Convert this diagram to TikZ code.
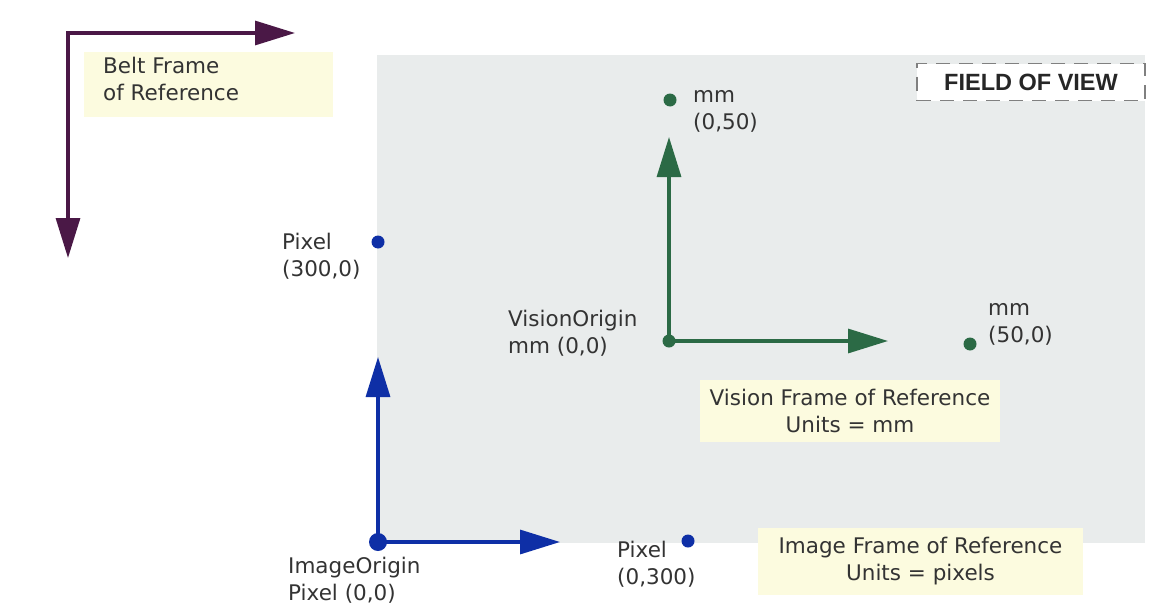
\documentclass[tikz,border=0pt]{standalone}
\usepackage{fontspec}
\setmainfont{DejaVu Sans}
\newfontfamily\fovfont{Liberation Sans}
\usetikzlibrary{arrows.meta,positioning}

\definecolor{beltcol}{HTML}{4A1846}
\definecolor{imagecol}{HTML}{0E2FA6}
\definecolor{visioncol}{HTML}{2B6A45}
\definecolor{fovcol}{HTML}{E9ECEC}
\definecolor{notecol}{HTML}{FCFBDF}
\definecolor{labelcol}{HTML}{333333}

\begin{document}
\begin{tikzpicture}[x=1pt,y=-1pt,
    font=\fontsize{21.5}{27}\selectfont,
    axis/.style={
% The line:
line width=3.2pt,
% The tip:
-{Triangle[length=40pt,width=24pt]},
},
    dot/.style={
% The shape:
circle, fill, inner sep=0pt,
% The size:
minimum size=13pt,
},
    note/.style={
% The shape:
rectangle, fill=notecol,
% The text:
text=labelcol, inner sep=0pt,
},
    lbl/.style={
% The text:
text=labelcol, align=left, inner sep=0pt, anchor=west,
},
]
  \useasboundingbox (0,0) rectangle (1155,610);
  % field of view
  \fill[fovcol] (377,55) rectangle (1145,543);
  \node[draw=gray, dashed, line width=1.5pt, dash pattern=on 14pt off 9pt,
        fill=white, minimum width=228pt, minimum height=37pt,
        font=\fovfont\fontsize{23.5}{26}\selectfont\bfseries, text=black!85]
        (fov) at (1031,82) {FIELD OF VIEW};

  % belt frame
  \coordinate (B) at (68,33);
  \coordinate (Bx) at (295,33);
  \coordinate (By) at (68,258);
  \draw[axis, beltcol] ([xshift=-1.6pt]B) -- (Bx);
  \draw[axis, beltcol] (B) -- (By);
  \fill[notecol] (84,52) rectangle (333,117);
  \node[lbl] (beltl) at (103,79) {Belt Frame\\of Reference};

  % image frame
  \node[dot, imagecol, minimum size=18pt] (I) at (378,542) {};
  \coordinate (Ix) at (560,542);
  \coordinate (Iy) at (378,357);
  \draw[axis, imagecol] (I.center) -- (Iy);
  \draw[axis, imagecol] (I.center) -- (Ix);
  \node[dot, imagecol] (P1) at (378,242) {};
  \node[dot, imagecol] (P2) at (688,541) {};
  \node[lbl] (P1l) at (282,256) {Pixel\\(300,0)};
  \node[lbl] (P2l) at (617,564) {Pixel\\(0,300)};
  \node[lbl] (Il) at (288,580) {ImageOrigin\\Pixel (0,0)};
  \node[note, minimum width=325pt, minimum height=67pt, align=center]
        (imagenote) at (920.5,561.5) {Image Frame of Reference\\Units = pixels};

  % vision frame
  \node[dot, visioncol] (V) at (669,341) {};
  \coordinate (Vx) at (888,341);
  \coordinate (Vy) at (669,137);
  \draw[axis, visioncol] (V.center) -- (Vy);
  \draw[axis, visioncol] (V.center) -- (Vx);
  \node[dot, visioncol] (M1) at (670,100) {};
  \node[dot, visioncol] (M2) at (970,344) {};
  \node[lbl] (M1l) at (693,111) {mm\\(0,50)};
  \node[lbl] (M2l) at (988,324) {mm\\(50,0)};
  \node[lbl] (Vl) at (508,333) {VisionOrigin\\mm (0,0)};
  \node[note, minimum width=300pt, minimum height=62pt, align=center]
        (visionnote) at (850,411) {Vision Frame of Reference\\Units = mm};

\end{tikzpicture}
\end{document}
